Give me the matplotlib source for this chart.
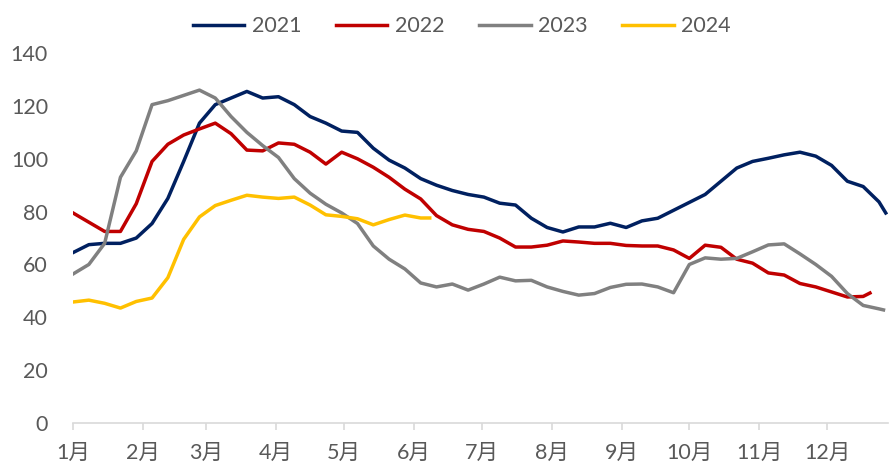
import numpy as np
import matplotlib.pyplot as plt

plt.rcParams['font.family'] = ['Lato', 'Noto Sans CJK SC', 'DejaVu Sans']

# 周度数据（按年内天数），各年份
days_2021 = np.append(np.arange(0, 358, 7), 360)
v_2021 = [64.5, 67.5, 68, 68, 70, 75.5, 85, 99, 113.5, 120.5, 123, 125.5, 123,
          123.5, 120.5, 116, 113.5, 110.5, 110, 104, 99.5, 96.5, 92.5, 90, 88,
          86.5, 85.5, 83.2, 82.5, 77.5, 74, 72.3, 74.2, 74.2, 75.6, 74, 76.5,
          77.5, 80.5, 83.5, 86.5, 91.5, 96.5, 99, 100.2, 101.5, 102.5, 101,
          97.5, 91.5, 89.5, 83.7, 79.5]

days_2022 = np.append(np.arange(0, 351, 7), 353)
v_2022 = [79.5, 76, 72.5, 72.5, 83, 99, 105.5, 109, 111.3, 113.5, 109.5, 103.3,
          103, 106, 105.5, 102.5, 98, 102.5, 100, 96.8, 93, 88.5, 84.8, 78.5,
          75, 73.3, 72.5, 70, 66.6, 66.6, 67.3, 68.9, 68.5, 68, 68, 67.2, 67,
          67, 65.5, 62.3, 67.3, 66.5, 62, 60.5, 56.8, 56, 52.8, 51.5, 49.6,
          47.7, 47.9, 49.2]

days_2023 = np.append(np.arange(0, 358, 7), 359)
v_2023 = [56.4, 60, 68, 93, 103, 120.5, 122, 124, 126, 123, 116, 110, 105,
          100.5, 92.5, 87, 82.8, 79.5, 75.5, 67, 62, 58.3, 53, 51.5, 52.6, 50.3,
          52.6, 55.2, 53.8, 54, 51.5, 49.8, 48.4, 49, 51.3, 52.5, 52.6, 51.5,
          49.3, 60, 62.5, 62, 62.3, 64.8, 67.4, 67.8, 64, 60, 55.5, 49, 44.5,
          43.2, 42.8]

days_2024 = np.append(np.arange(0, 155, 7), 158)
v_2024 = [45.8, 46.5, 45.3, 43.5, 46, 47.3, 55, 69.5, 78, 82.3, 84.3, 86.2,
          85.5, 85, 85.5, 82.5, 78.8, 78.2, 77.3, 75, 77, 78.7, 77.6, 77.6]

month_days = [0, 31, 59, 90, 120, 151, 181, 212, 243, 273, 304, 334]
month_labels = ['1月', '2月', '3月', '4月', '5月', '6月',
                '7月', '8月', '9月', '10月', '11月', '12月']

fig = plt.figure(figsize=(8.94, 4.66), dpi=100)
ax = fig.add_axes([0.0817, 0.0923, 0.9116, 0.7937])

ax.plot(days_2021, v_2021, color='#002060', lw=2.5, label='2021')
ax.plot(days_2022, v_2022, color='#C00000', lw=2.5, label='2022')
ax.plot(days_2023, v_2023, color='#808080', lw=2.5, label='2023')
ax.plot(days_2024, v_2024, color='#FFC000', lw=2.5, label='2024')

ax.set_xlim(0, 361)
ax.set_ylim(0, 140)
ax.set_yticks(range(0, 141, 20))
ax.set_xticks(month_days)
ax.set_xticklabels(month_labels)

for s in ['top', 'right', 'left']:
    ax.spines[s].set_visible(False)
ax.spines['bottom'].set_color('#D9D9D9')
ax.spines['bottom'].set_linewidth(1.2)
ax.tick_params(axis='x', colors='#D9D9D9', length=5, width=1.2, pad=9,
               labelcolor='#595959', labelsize=15.5)
ax.tick_params(axis='y', length=0, pad=18, labelcolor='#595959', labelsize=15.5)

ax.legend(loc='center', bbox_to_anchor=(0.477, 1.072), ncol=4, frameon=False,
          fontsize=15.5, handlelength=2.4, handletextpad=0.35,
          columnspacing=1.6, labelcolor='#595959')

fig.savefig('out.png', dpi=100)
